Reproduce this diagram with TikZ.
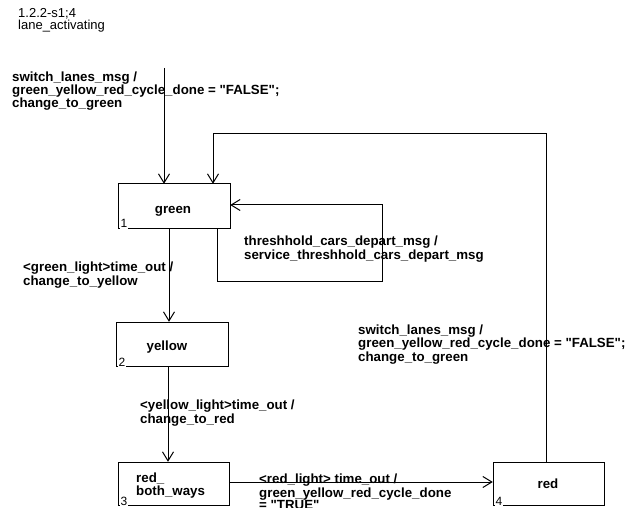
\documentclass[tikz,border=0pt]{standalone}
\usepackage{fontspec}
\setmainfont{Liberation Sans}
\newfontfamily\lsans{Liberation Sans}
\usetikzlibrary{arrows.meta}
\tikzset{
  statebox/.style={draw=black, line width=1pt, fill=white},
  conn/.style={draw=black, line width=1pt, -{Straight Barb[length=9pt,width=11pt,line width=1pt]}},
  lbl/.style={anchor=base west, inner sep=0pt, align=left, font=\lsans\fontsize{13.3}{12.2}\selectfont\bfseries},
  hdr/.style={anchor=base west, inner sep=0pt, align=left, font=\lsans\fontsize{13}{12}\selectfont},
  sname/.style={anchor=base, inner sep=0pt, align=left, font=\lsans\fontsize{13.3}{13.5}\selectfont\bfseries},
  snum/.style={anchor=base west, inner sep=1pt, fill=white, font=\lsans\fontsize{12}{12}\selectfont},
}
\begin{document}
\begin{tikzpicture}[x=1pt,y=-1pt]
\useasboundingbox (0,0) rectangle (635,508);
\clip (0,0) rectangle (635,508);

% header
\node[hdr] (hdr) at (18,30) {1.2.2-s1;4\\lane\_activating};

% states
\path[statebox] (118,184) rectangle (230,228);
\node[inner sep=0pt, minimum width=112pt, minimum height=44pt] (green) at (174,206) {};
\node[sname] (greenT) at (173,214) {green};
\node[snum] (n1) at (119.5,228) {1};

\path[statebox] (116,322) rectangle (228,366);
\node[inner sep=0pt, minimum width=112pt, minimum height=44pt] (yellow) at (172,344) {};
\node[sname] (yellowT) at (167,350) {yellow};
\node[snum] (n2) at (117.5,366) {2};

\path[statebox] (118,462) rectangle (229,505);
\node[inner sep=0pt, minimum width=111pt, minimum height=43pt] (redboth) at (173.5,483.5) {};
\node[sname, anchor=base west] (redbothT) at (136,495.5) {red\_\\both\_ways};
\node[snum] (n3) at (119.5,505) {3};

\path[statebox] (493,462) rectangle (604,505);
\node[inner sep=0pt, minimum width=111pt, minimum height=43pt] (red) at (548.5,483.5) {};
\node[sname] (redT) at (548,488) {red};
\node[snum] (n4) at (494.5,505) {4};

% connectors
\coordinate (init) at (164,68);
\draw[conn] (init) -- (init |- green.north);

\coordinate (gy) at (169,228);
\draw[conn] (gy) -- (gy |- yellow.north);

\coordinate (yr) at (168,366);
\draw[conn] (yr) -- (yr |- redboth.north);

\coordinate (rr) at (229,482);
\draw[conn] (rr) -- (rr -| red.west);

\coordinate (rg1) at (546,462);
\coordinate (rg2) at (546,134);
\coordinate (rg3) at (213,134);
\draw[conn] (rg1) -- (rg2) -- (rg3) -- (rg3 |- green.north);

\coordinate (sl1) at (217,228);
\coordinate (sl2) at (217,281);
\coordinate (sl3) at (382,281);
\coordinate (sl4) at (382,205);
\draw[conn] (sl1) -- (sl2) -- (sl3) -- (sl4) -- (sl4 -| green.east);

% labels
\node[lbl] (l1) at (12,108) {switch\_lanes\_msg /\\green\_yellow\_red\_cycle\_done = "FALSE";\\change\_to\_green};
\node[lbl] (l2) at (23,285) {<green\_light>time\_out /\\change\_to\_yellow};
\node[lbl] (l3) at (244,259) {threshhold\_cars\_depart\_msg /\\service\_threshhold\_cars\_depart\_msg};
\node[lbl] (l4) at (140,423) {<yellow\_light>time\_out /\\change\_to\_red};
\node[lbl] (l5) at (358,361) {switch\_lanes\_msg /\\green\_yellow\_red\_cycle\_done = "FALSE";\\change\_to\_green};
\node[lbl] (l6) at (259,509.5) {<red\_light> time\_out /\\green\_yellow\_red\_cycle\_done\\= "TRUE"};
\end{tikzpicture}
\end{document}
